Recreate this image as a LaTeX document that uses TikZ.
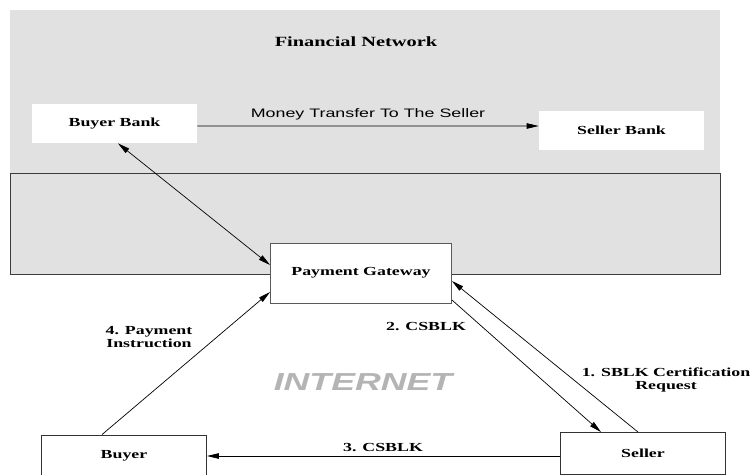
\documentclass[tikz,border=0pt]{standalone}
\usepackage{fontspec}
\setmainfont{Liberation Serif}[FakeStretch=1.45]
\newfontfamily\helv{Liberation Sans}[FakeStretch=1.45]
\usetikzlibrary{
  calc,
  arrows.meta,
}
\definecolor{netgray}{HTML}{E1E1E1}
\definecolor{netgrayline}{HTML}{3C3C3C}
\definecolor{inetgray}{HTML}{B4B4B4}

\begin{document}
\begin{tikzpicture}[
  x=0.2mm, y=-0.2mm,
  font=\fontsize{7}{7}\selectfont\bfseries,
  >={Triangle[length=2.4mm,width=1.1mm]},
  bank/.style={fill=white, minimum width=33mm, minimum height=7.8mm, inner sep=0pt},
  party/.style={bank, draw=black!80, line width=0.5pt, minimum height=8.4mm},
  gate/.style={party, draw=black!65, minimum width=36.2mm, minimum height=12mm},
  flow/.style={line width=0.4pt, ->},
  msg/.style={align=center},
]
\useasboundingbox (0,0) rectangle (752,474);
% financial network and its lower band
\fill[netgray] (10,10) rectangle (720,173);
\filldraw[fill=netgray, draw=netgrayline, line width=0.5pt] (10,173) rectangle (720,274);
\node (fintitle) at (356,42) {\fontsize{8}{8}\selectfont Financial Network};
\node[bank] (bbank) at (114.5,123.5) {Buyer Bank};
\node[bank] (sbank) at (621.5,130) {Seller Bank};
\node[gate] (pg) at (361,273) {Payment Gateway};
\node[party] (buyer) at (124,456) {Buyer};
\node[party] (seller) at (643,453.5) {Seller};
% messages
\draw[flow] ($(bbank.east)+(0,2.5)$) -- node[above, font=\fontsize{7}{7}\selectfont\helv\mdseries] (transfer) {Money Transfer To The Seller} ($(sbank.west)+(0,-4)$);
\draw[flow, <->] ($(bbank.south)+(3.5,0)$) -- ($(pg.west)+(0,-8)$);
\draw[flow] ($(seller.north)+(-5,0)$) -- ($(pg.east)+(0,8)$);
\draw[flow] ($(pg.east)+(0,27)$) -- ($(seller.north)+(-42,0)$);
\draw[flow] (seller.west |- buyer.east) -- (buyer.east);
\draw[flow] ($(buyer.north)+(-22,0)$) -- ($(pg.west)+(0,19)$);
\node[msg] (msg1) at (666,380) {1. SBLK Certification\\Request};
\node[msg] (msg2) at (426,327) {2. CSBLK};
\node[msg] (msg3) at (383,448) {3. CSBLK};
\node[msg] (msg4) at (149,337) {4. Payment\\Instruction};
\node[text=inetgray, font=\fontsize{14}{14}\selectfont\helv\bfseries\itshape] (inet) at (363,382) {INTERNET};
\end{tikzpicture}
\end{document}
